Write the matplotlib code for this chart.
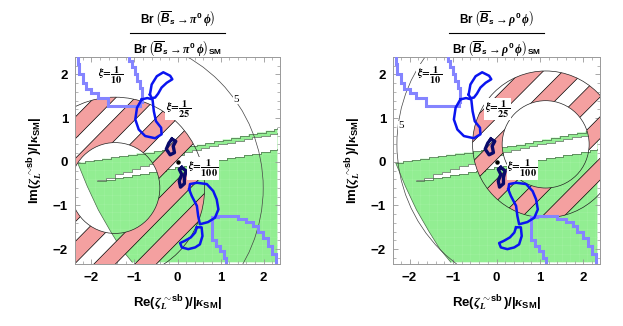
import numpy as np
import matplotlib
matplotlib.use('Agg')
import matplotlib.pyplot as plt
from matplotlib.patches import Polygon, Circle, PathPatch
from matplotlib.path import Path
from matplotlib.lines import Line2D

plt.rcParams['font.family'] = 'Liberation Sans'
plt.rcParams['font.weight'] = 'bold'
plt.rcParams['mathtext.fontset'] = 'custom'
plt.rcParams['mathtext.rm'] = 'Liberation Sans:bold'
plt.rcParams['mathtext.bf'] = 'Liberation Sans:bold'
plt.rcParams['mathtext.it'] = 'Liberation Serif:italic'
plt.rcParams['mathtext.bfit'] = 'Liberation Sans:italic:bold'
plt.rcParams['mathtext.sf'] = 'Liberation Sans'
plt.rcParams['hatch.linewidth'] = 0.3

# ---- data ----
mesons = [r'\pi^{\mathbf{0}}', r'\rho^{\mathbf{0}}']

# Br ratio circles (common centre per panel): inner / outer bound of hatched ring, and the "5" contour
ring_center = [(-1.45, -0.60), (1.13, 0.40)]
ring_inner_r = [1.04, 1.00]
ring_outer_r = [2.08, 1.68]
five_r = [3.44, 3.42]
five_label = [(1.37, 1.43), (-2.19, 0.82)]

# green allowed region: top staircase (A), white wedge between B (upper) and C (lower), lower-left arc
A_x = [-2.32, -2.15, -1.95, -1.75, -1.55, -1.35, -1.15, -0.95, -0.75, -0.55, -0.35, -0.15,
       0.05, 0.25, 0.45, 0.65, 0.85, 1.05, 1.25, 1.45, 1.65, 1.85, 2.05, 2.25, 2.32]
A_y = [-0.02, 0.01, 0.04, 0.07, 0.10, 0.13, 0.16, 0.19, 0.21, 0.24, 0.27, 0.30,
       0.33, 0.36, 0.39, 0.43, 0.47, 0.51, 0.55, 0.59, 0.63, 0.67, 0.71, 0.75, 0.77]
B_x = [-1.86, -1.66, -1.46, -1.26, -1.06, -0.86, -0.66, -0.46, -0.26, -0.06, 0.14, 0.34,
       0.54, 0.74, 0.94, 1.14, 1.34, 1.54, 1.74, 1.94, 2.14, 2.32]
B_y = [-0.42, -0.36, -0.29, -0.23, -0.17, -0.10, -0.04, 0.03, 0.09, 0.15, 0.22, 0.28,
       0.32, 0.36, 0.40, 0.44, 0.48, 0.52, 0.56, 0.60, 0.64, 0.67]
C_x = B_x
C_y = [-0.44, -0.41, -0.37, -0.34, -0.30, -0.27, -0.23, -0.20, -0.16, -0.13, -0.09, -0.06,
       -0.02, 0.01, 0.05, 0.08, 0.12, 0.15, 0.19, 0.22, 0.26, 0.29]
arc_x = [-2.32, -2.10, -1.84, -1.55, -1.30, -1.05]
arc_y = [-0.02, -0.55, -1.10, -1.60, -2.00, -2.30]
green_right, green_bottom = 2.32, -2.30

# xi = 1/10 contours (light blue staircase)
lb1_x = [-2.32, -2.32, -2.28, -2.28, -2.20, -2.20, -2.12, -2.12, -2.00, -2.00, -1.84, -1.84,
         -1.61, -1.61, -0.87, -0.87, -0.83, -0.83, -0.88, -0.88, -0.95, -0.95, -0.99, -0.99,
         -1.06, -1.06, -1.12, -1.12]
lb1_y = [2.45, 2.23, 2.23, 2.00, 2.00, 1.81, 1.81, 1.66, 1.66, 1.57, 1.57, 1.47,
         1.47, 1.28, 1.28, 1.36, 1.36, 1.70, 1.70, 1.85, 1.85, 2.00, 2.00, 2.17,
         2.17, 2.30, 2.30, 2.45]
lb2_x = [1.13, 1.13, 1.07, 1.07, 0.98, 0.98, 0.89, 0.89, 0.80, 0.80, 0.93, 0.93, 1.40, 1.40,
         1.60, 1.60, 1.75, 1.75, 1.86, 1.86, 1.98, 1.98, 2.10, 2.10, 2.20, 2.20, 2.28, 2.28]
lb2_y = [-2.45, -2.20, -2.20, -2.05, -2.05, -1.92, -1.92, -1.78, -1.78, -1.27, -1.27, -1.24,
         -1.24, -1.30, -1.30, -1.38, -1.38, -1.48, -1.48, -1.60, -1.60, -1.75, -1.75, -1.92,
         -1.92, -2.10, -2.10, -2.45]

# xi = 1/25 contours (blue, closed)
c25_up1_x = [-0.64, -0.60, -0.48, -0.33, -0.17, -0.12, -0.25, -0.37, -0.45, -0.52, -0.60]
c25_up1_y = [1.54, 1.77, 1.96, 2.05, 1.97, 1.89, 1.81, 1.70, 1.56, 1.47, 1.46]
c25_up2_x = [-0.83, -0.94, -0.98, -0.90, -0.75, -0.52, -0.37, -0.38, -0.50, -0.55, -0.58, -0.70]
c25_up2_y = [1.43, 1.24, 0.97, 0.74, 0.59, 0.54, 0.63, 0.78, 0.93, 1.16, 1.43, 1.46]
c25_dn1_x = [0.27, 0.29, 0.45, 0.68, 0.83, 0.91, 0.95, 0.87, 0.71, 0.52, 0.48, 0.45, 0.33]
c25_dn1_y = [-0.63, -0.51, -0.48, -0.51, -0.67, -0.86, -1.09, -1.28, -1.38, -1.43, -1.24, -1.01, -0.78]
c25_dn2_x = [0.45, 0.56, 0.58, 0.52, 0.41, 0.25, 0.10, 0.06, 0.17, 0.31, 0.41]
c25_dn2_y = [-1.50, -1.50, -1.70, -1.89, -1.96, -2.00, -1.96, -1.86, -1.81, -1.73, -1.62]

# xi = 1/100 contours (navy, closed)
c100_up_x = [-0.13, -0.04, -0.10, -0.07, -0.17, -0.26, -0.20]
c100_up_y = [0.52, 0.47, 0.36, 0.21, 0.16, 0.29, 0.43]
c100_dn_x = [0.10, 0.20, 0.16, 0.16, 0.07, 0.04, 0.10, 0.04]
c100_dn_y = [-0.13, -0.21, -0.36, -0.50, -0.58, -0.44, -0.29, -0.17]

xi_labels = [r'$\xi\!=\!\dfrac{1}{10}$', r'$\xi\!=\!\dfrac{1}{25}$', r'$\xi\!=\!\dfrac{1}{100}$']
xi_pos = [(-1.55, 1.98), (0.02, 1.21), (0.60, -0.15)]

PINK = '#F4A0A0'
GREEN = '#92EE92'


def steps(xs, ys):
    vx, vy = [xs[0]], [ys[0]]
    for i in range(1, len(xs)):
        vx += [xs[i], xs[i]]
        vy += [ys[i - 1], ys[i]]
    return vx, vy


def ring_path(c, r1, r2):
    t = np.linspace(0, 2 * np.pi, 200)
    outer = np.column_stack([c[0] + r2 * np.cos(t), c[1] + r2 * np.sin(t)])
    inner = np.column_stack([c[0] + r1 * np.cos(t[::-1]), c[1] + r1 * np.sin(t[::-1])])
    verts = np.vstack([outer, inner])
    codes = ([Path.MOVETO] + [Path.LINETO] * 199) * 2
    return Path(verts, codes)


def draw_panel(ax, i):
    # green region
    ax_, ay_ = steps(A_x, A_y)
    gx = ax_ + [green_right, green_right] + arc_x[::-1]
    gy = ay_ + [ay_[-1], green_bottom] + arc_y[::-1]
    ax.add_patch(Polygon(np.column_stack([gx, gy]), fc=GREEN, ec='none', zorder=1))
    ax.add_patch(Polygon(np.column_stack([gx, gy]), fill=False, ec='#a3f2a3', lw=0,
                         hatch='++', zorder=1.1))
    bx, by = steps(B_x, B_y)
    cx, cy = steps(C_x, C_y)
    wx = bx + cx[::-1]
    wy = by + cy[::-1]
    ax.add_patch(Polygon(np.column_stack([wx, wy]), fc='white', ec='none', zorder=1.2))
    for xs, ys in [(ax_, ay_), (bx, by), (cx, cy), (arc_x, arc_y)]:
        ax.plot(xs, ys, color='#4a6a4a', lw=0.5, zorder=1.3)

    # hatched ring
    c = ring_center[i]
    ring = PathPatch(ring_path(c, ring_inner_r[i], ring_outer_r[i]), transform=ax.transData)
    period, width, phase = 0.95, 0.50, 0.40
    for k in range(-8, 9):
        c1 = phase + k * period
        c2 = c1 + width
        band = Polygon([(c1 - 5, -5), (c2 - 5, -5), (c2 + 5, 5), (c1 + 5, 5)],
                       fc=PINK, ec='black', lw=0.5, zorder=2)
        ax.add_patch(band)
        band.set_clip_path(ring)
    for r in (ring_inner_r[i], ring_outer_r[i]):
        ax.add_patch(Circle(c, r, fill=False, ec='#222222', lw=0.5, zorder=2.5))
    ax.add_patch(Circle(c, five_r[i], fill=False, ec='#444444', lw=0.5, zorder=2.5))
    ax.text(*five_label[i], '5', fontsize=8, family='Liberation Serif',
            fontweight='normal', ha='center', va='center', zorder=3,
            bbox=dict(fc='white', ec='none', pad=0.3))

    # contours
    for xs, ys in [(lb1_x, lb1_y), (lb2_x, lb2_y)]:
        ax.plot(xs, ys, color='#8484FF', lw=2.2, zorder=4, solid_joinstyle='miter')
    for xs, ys in [(c25_up1_x, c25_up1_y), (c25_up2_x, c25_up2_y),
                   (c25_dn1_x, c25_dn1_y), (c25_dn2_x, c25_dn2_y)]:
        ax.plot(xs + xs[:1], ys + ys[:1], color='#0a14F0', lw=1.8, zorder=5)
    for xs, ys in [(c100_up_x, c100_up_y), (c100_dn_x, c100_dn_y)]:
        ax.plot(xs + xs[:1], ys + ys[:1], color='#0a0a6a', lw=2.4, zorder=6,
                solid_joinstyle='round')
    ax.plot([0], [0], 'o', color='black', ms=2.2, zorder=7)

    for lab, (x, y) in zip(xi_labels, xi_pos):
        ax.text(x, y, lab, fontsize=7.5, math_fontfamily='stix', ha='center', va='center',
                zorder=8, bbox=dict(fc='white', ec='none', pad=0.5))

    # axes cosmetics
    ax.set_xlim(-2.38, 2.38)
    ax.set_ylim(-2.34, 2.40)
    ax.set_xticks([-2, -1, 0, 1, 2])
    ax.set_yticks([-2, -1, 0, 1, 2])
    ax.set_xticks(np.arange(-2.2, 2.3, 0.2), minor=True)
    ax.set_yticks(np.arange(-2.2, 2.3, 0.2), minor=True)
    ax.tick_params(which='both', direction='in', top=True, right=True, color='#999999',
                   labelsize=9.5)
    ax.tick_params(axis='x', pad=6)
    ax.tick_params(axis='y', pad=5)
    ax.tick_params(which='major', length=3.5, width=0.6)
    ax.tick_params(which='minor', length=2, width=0.5)
    for s in ax.spines.values():
        s.set_color('#999999')
        s.set_linewidth(0.7)
    ax.set_xlabel(r'$\mathbf{Re}(\zeta_{L}^{\,\sim\!\mathbf{sb}}\,)/|\kappa_{\mathbf{SM}}|$', fontsize=9.5)
    ax.xaxis.set_label_coords(0.5, -0.14)
    ax.set_ylabel(r'$\mathbf{Im}(\zeta_{L}^{\,\sim\!\mathbf{sb}}\,)/|\kappa_{\mathbf{SM}}|$', fontsize=9.5)
    ax.yaxis.set_label_coords(-0.15, 0.5)

    # title as a fraction
    m = mesons[i]
    num = r'$\mathbf{Br}\;\left(\overline{\mathbfit{B}}_{\mathbfit{s}}\rightarrow %s\,\phi\right)$' % m
    den = r'$\mathbf{Br}\;\left(\overline{\mathbfit{B}}_{\mathbfit{s}}\rightarrow %s\,\phi\right)_{\mathbf{SM}}$' % m
    ax.text(0.5, 1.163, num, transform=ax.transAxes, ha='center', va='baseline', fontsize=8.5)
    ax.text(0.5, 1.021, den, transform=ax.transAxes, ha='center', va='baseline', fontsize=8.5)
    ax.add_line(Line2D([0.27, 0.73], [1.115, 1.115], transform=ax.transAxes, color='black',
                       lw=0.8, clip_on=False))


fig = plt.figure(figsize=(6.23, 3.26), dpi=100)
ax1 = fig.add_axes([75 / 623, 1 - 264 / 326, 205 / 623, 207 / 326])
ax2 = fig.add_axes([393 / 623, 1 - 264 / 326, 207 / 623, 207 / 326])
draw_panel(ax1, 0)
draw_panel(ax2, 1)
fig.savefig('out.png', dpi=100)
